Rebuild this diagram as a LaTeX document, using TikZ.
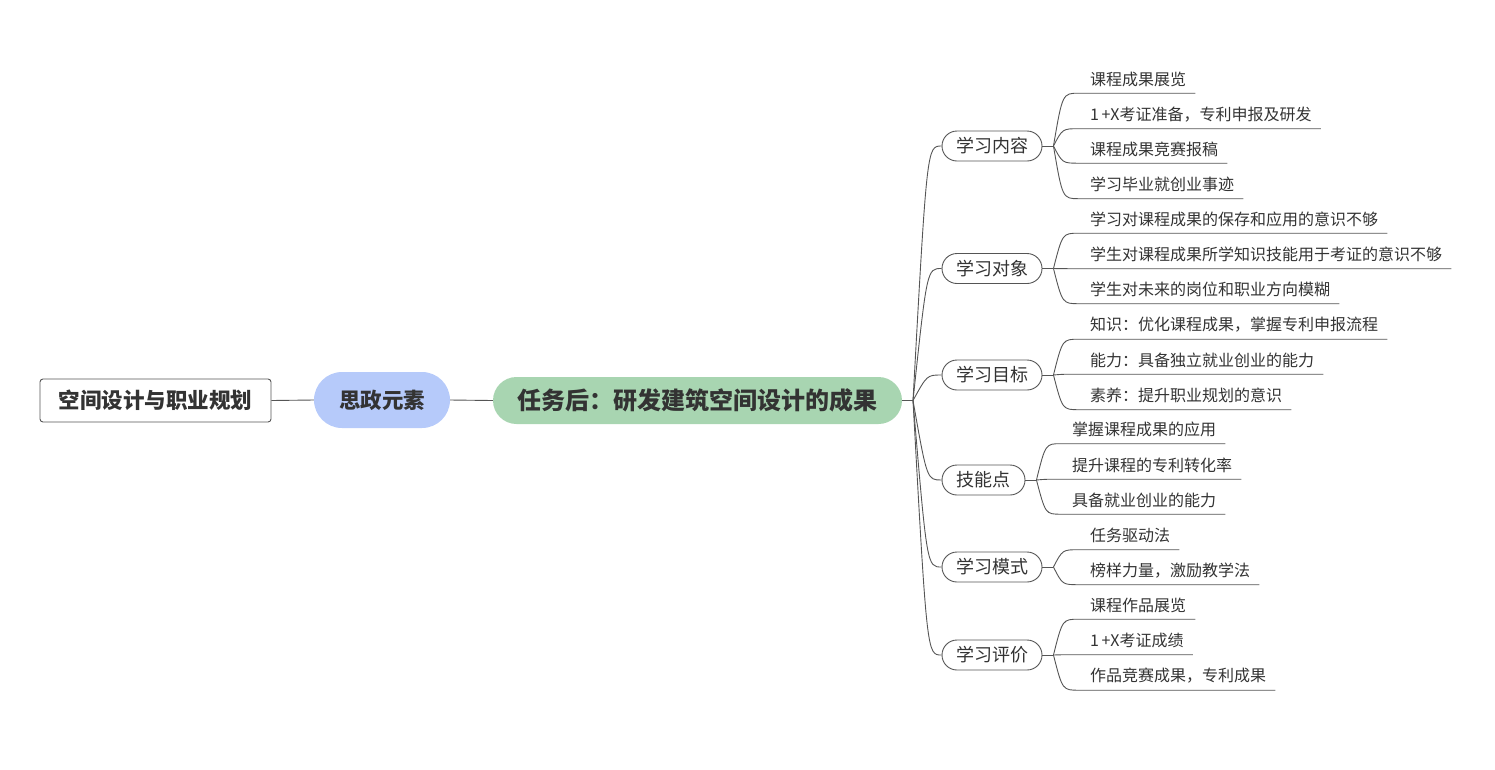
\documentclass[tikz,border=0pt]{standalone}
\usepackage{fontspec}
\newfontfamily\cjk{Noto Sans CJK SC}
\definecolor{szblue}{RGB}{182,202,250}
\definecolor{taskgreen}{RGB}{168,213,177}
\definecolor{linegray}{RGB}{85,85,85}
\definecolor{txtgray}{RGB}{51,51,51}
\tikzset{
  conn/.style={draw=linegray, line width=0.9pt},
  rootbox/.style={draw=linegray, line width=0.9pt, rounded corners=3pt, fill=white,
    minimum width=231pt, minimum height=43pt, inner sep=0pt,
    font=\cjk\bfseries\fontsize{21.5}{24}\selectfont, text=txtgray},
  toppill/.style={rounded corners=#1, inner sep=0pt, text=txtgray},
  branch/.style={draw=linegray, line width=0.9pt, rounded corners=15pt, fill=white,
    minimum height=30pt, inner sep=0pt, text=txtgray,
    font=\cjk\fontsize{18}{20}\selectfont},
  leaf/.style={anchor=west, inner xsep=11pt, inner ysep=0pt, minimum height=28pt,
    text=txtgray, font=\cjk\fontsize{16}{18}\selectfont},
}
\newcommand{\oneX}{1\kern2.5pt+X}
\begin{document}
\begin{tikzpicture}[x=1pt,y=-1pt]
\useasboundingbox (0,0) rectangle (1495,769);

\node[rootbox] (root) at (155.5,400.5) {空间设计与职业规划};
\node[toppill=28pt, fill=szblue, minimum width=136pt, minimum height=56pt,
  font=\cjk\bfseries\fontsize{21.5}{24}\selectfont] (sz) at (382,400) {思政元素};
\node[toppill=23.5pt, fill=taskgreen, minimum width=409pt, minimum height=47pt,
  font=\cjk\bfseries\fontsize{24}{26}\selectfont] (task) at (697.5,400.5) {任务后：研发建筑空间设计的成果};

\draw[conn] (root.east) -- (sz.west);
\draw[conn] (sz.east) -- (task.west);
\coordinate (hub) at (913,400.5);
\draw[conn] (task.east) -- (hub);

% branches
\node[branch, minimum width=100pt] (b1) at (992,146) {学习内容};
\node[branch, minimum width=100pt] (b2) at (992,268.5) {学习对象};
\node[branch, minimum width=100pt] (b3) at (992,375) {学习目标};
\node[branch, minimum width=83pt] (b4) at (983.5,480) {技能点};
\node[branch, minimum width=100pt] (b5) at (992,567) {学习模式};
\node[branch, minimum width=100pt] (b6) at (992,655) {学习评价};

\foreach \b in {b1,b2,b3,b4,b5,b6}{
  \draw[conn] (hub) .. controls ([xshift=14pt]hub |- \b.west) .. (\b.west);
}

% junctions
\foreach \b in {b1,b2,b3,b4,b5,b6}{
  \coordinate (j\b) at ([xshift=11pt]\b.east);
  \draw[conn] (\b.east) -- (j\b);
}

% leaves
\node[leaf] (l11) at (1079,79) {课程成果展览};
\node[leaf] (l12) at (1079,114.5) {\oneX 考证准备，专利申报及研发};
\node[leaf] (l13) at (1079,149) {课程成果竞赛报稿};
\node[leaf] (l14) at (1079,184.5) {学习毕业就创业事迹};

\node[leaf] (l21) at (1079,219) {学习对课程成果的保存和应用的意识不够};
\node[leaf] (l22) at (1079,254.5) {学生对课程成果所学知识技能用于考证的意识不够};
\node[leaf] (l23) at (1079,289.5) {学生对未来的岗位和职业方向模糊};

\node[leaf] (l31) at (1079,325) {知识：优化课程成果，掌握专利申报流程};
\node[leaf] (l32) at (1079,360) {能力：具备独立就业创业的能力};
\node[leaf] (l33) at (1079,395.5) {素养：提升职业规划的意识};

\node[leaf] (l41) at (1061,429.5) {掌握课程成果的应用};
\node[leaf] (l42) at (1061,465) {提升课程的专利转化率};
\node[leaf] (l43) at (1061,500) {具备就业创业的能力};

\node[leaf] (l51) at (1079,535.5) {任务驱动法};
\node[leaf] (l52) at (1079,570.5) {榜样力量，激励教学法};

\node[leaf] (l61) at (1079,605) {课程作品展览};
\node[leaf] (l62) at (1079,640.5) {\oneX 考证成绩};
\node[leaf] (l63) at (1079,676) {作品竞赛成果，专利成果};

\foreach \b/\l in {b1/l11,b1/l12,b1/l13,b1/l14,b2/l21,b2/l22,b2/l23,
                   b3/l31,b3/l32,b3/l33,b4/l41,b4/l42,b4/l43,
                   b5/l51,b5/l52,b6/l61,b6/l62,b6/l63}{
  \draw[conn] (j\b) .. controls ([xshift=9pt]j\b |- \l.south west) .. (\l.south west) -- ([xshift=-2pt]\l.south east);
}
\end{tikzpicture}
\end{document}
